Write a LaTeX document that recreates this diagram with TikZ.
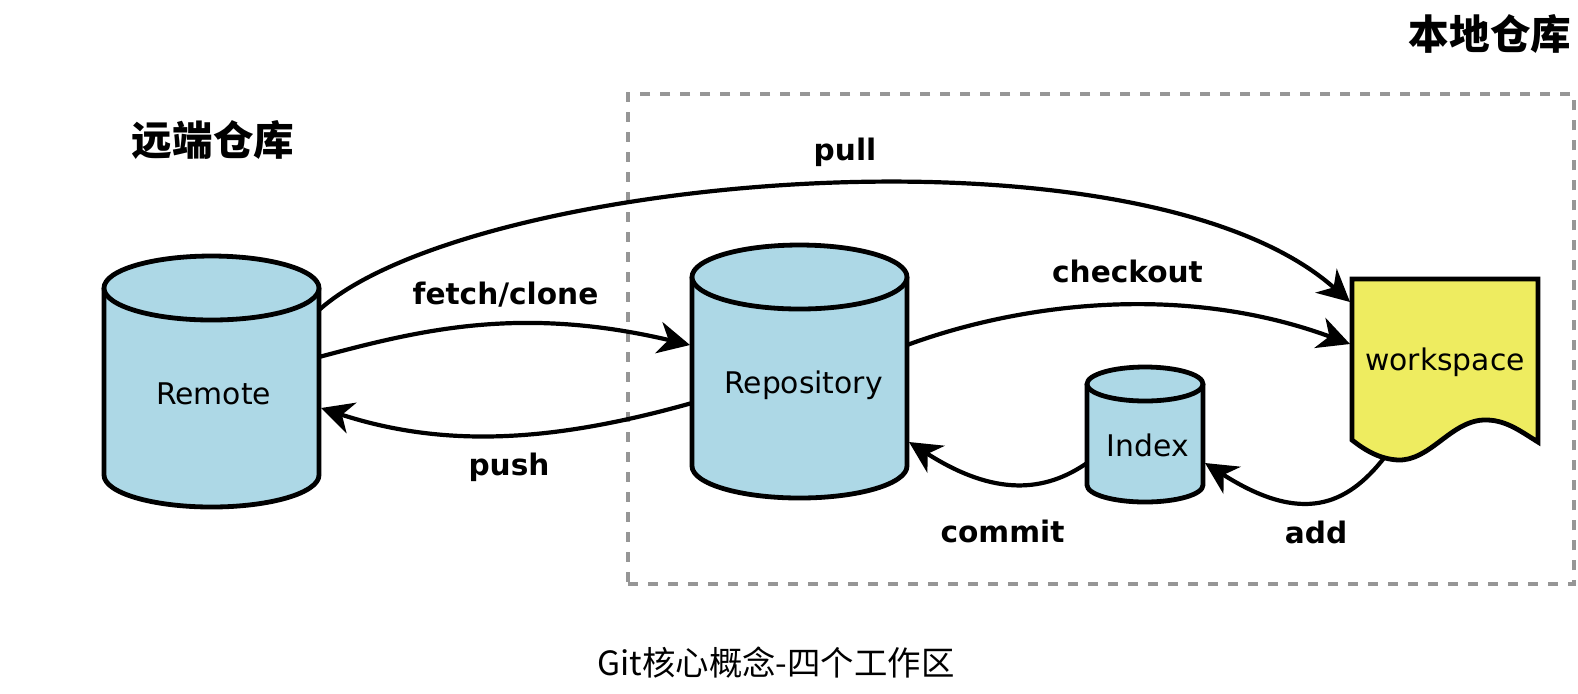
\documentclass[tikz,border=0pt]{standalone}
\usepackage{fontspec}
\setmainfont{DejaVu Sans}
\newfontfamily\cjk{Noto Sans CJK SC}
\usetikzlibrary{arrows.meta,calc}
\definecolor{cylblue}{RGB}{173,216,230}
\definecolor{wsyellow}{RGB}{238,236,96}
\definecolor{boxgray}{RGB}{150,150,150}
\tikzset{
  outl/.style={draw=black,line width=2.4pt,line join=round},
  holder/.style={draw=none,inner sep=0pt,outer sep=0pt},
  conn/.style={draw=black,line width=2.1pt,-{Stealth[length=16pt,width=16pt,inset=5pt]}},
  lbl/.style={inner sep=0pt,font=\fontsize{14.8}{17}\selectfont\bfseries},
  ntext/.style={inner sep=0pt,font=\fontsize{14.9}{17}\selectfont},
  ttl/.style={inner sep=0pt,font=\cjk\bfseries\fontsize{20.3}{24}\selectfont},
  captxt/.style={inner sep=0pt,font=\cjk\fontsize{16.7}{20}\selectfont},
  localbox/.style={draw=boxgray,line width=2pt,dash pattern=on 5pt off 5pt,inner sep=0pt},
}
\newcommand\drawcyl[5]{% cx, top-centre y, bottom-centre y, rx, ry
  \fill[cylblue] ({#1-#4},#2) -- ({#1-#4},#3)
    .. controls ({#1-#4},{#3+0.5523*#5}) and ({#1-0.5523*#4},{#3+#5}) .. (#1,{#3+#5})
    .. controls ({#1+0.5523*#4},{#3+#5}) and ({#1+#4},{#3+0.5523*#5}) .. ({#1+#4},#3)
    -- ({#1+#4},#2) -- cycle;
  \draw[outl] ({#1-#4},#2) -- ({#1-#4},#3)
    .. controls ({#1-#4},{#3+0.5523*#5}) and ({#1-0.5523*#4},{#3+#5}) .. (#1,{#3+#5})
    .. controls ({#1+0.5523*#4},{#3+#5}) and ({#1+#4},{#3+0.5523*#5}) .. ({#1+#4},#3)
    -- ({#1+#4},#2);
  \draw[outl,fill=cylblue] (#1,#2) ellipse [x radius=#4, y radius=#5];
}
\begin{document}
\begin{tikzpicture}[x=0.5pt,y=-0.5pt]
\useasboundingbox (0,0) rectangle (1578,693);
% local repository frame
\node[localbox,minimum width=473pt,minimum height=245pt] (local) at (1101,339) {};
% shape holders
\node[holder,minimum width=107.5pt,minimum height=125.5pt] (remote) at (211.5,381.5) {};
\node[holder,minimum width=107.5pt,minimum height=126.5pt] (repo) at (799.5,371.5) {};
\node[holder,minimum width=58pt,minimum height=67.5pt] (index) at (1145,434.5) {};
\node[holder,minimum width=93pt,minimum height=90.5pt] (ws) at (1445,369.5) {};
% cylinders
\drawcyl{211.5}{288}{475}{107.5}{32}
\drawcyl{799.5}{277}{466}{107.5}{32}
\drawcyl{1145}{384}{485}{58}{17}
% workspace document
\draw[outl,line join=miter,fill=wsyellow] (ws.north west) -- (ws.north east) -- (1538,442)
  .. controls (1520,431) and (1505,419) .. (1483,420)
  .. controls (1450,422) and (1430,461) .. (1398,460)
  .. controls (1380,459) and (1366,451) .. (1352,440) -- cycle;
\coordinate (wsbot) at (1384,458);
% texts in shapes
\node[ntext] (remotet) at (213.5,394) {Remote};
\node[ntext] (repot) at (803.5,385) {Repository};
\node[ntext] (indext) at (1148,445) {Index};
\node[ntext] (wst) at (1445,362) {workspace};
% connectors
\draw[conn] ($(remote.north east)+(0,54)$) .. controls (470,175) and (1140,115) .. ($(ws.north west)+(-2,23)$);
\draw[conn] ($(remote.north east)+(0,101)$) .. controls (420,330) and (520,305) .. ($(repo.north west)+(-2,100)$);
\draw[conn] ($(repo.north west)+(0,158)$) .. controls (560,440) and (450,450) .. ($(remote.north east)+(2,152)$);
\draw[conn] ($(repo.north east)+(0,100)$) .. controls (1030,300) and (1190,285) .. ($(ws.north west)+(-2,65)$);
\draw[conn] ($(index.north west)+(0,96)$) .. controls (1045,492) and (995,497) .. ($(repo.north east)+(2,197)$);
\draw[conn] (wsbot) .. controls (1347,505) and (1302,525) .. ($(index.north east)+(2,96)$);
% connector labels
\node[lbl] (lpull) at (845,152) {pull};
\node[lbl] (lfetch) at (505.5,295) {fetch/clone};
\node[lbl] (lpush) at (509,467) {push};
\node[lbl] (lcheckout) at (1127.5,271) {checkout};
\node[lbl] (lcommit) at (1002.5,531) {commit};
\node[lbl] (ladd) at (1316,532) {add};
% titles
\node[ttl] (tremote) at (213,140) {远端仓库};
\node[ttl] (tlocal) at (1490,34) {本地仓库};
\node[captxt] (caption) at (776,663) {Git核心概念-四个工作区};
\end{tikzpicture}
\end{document}
